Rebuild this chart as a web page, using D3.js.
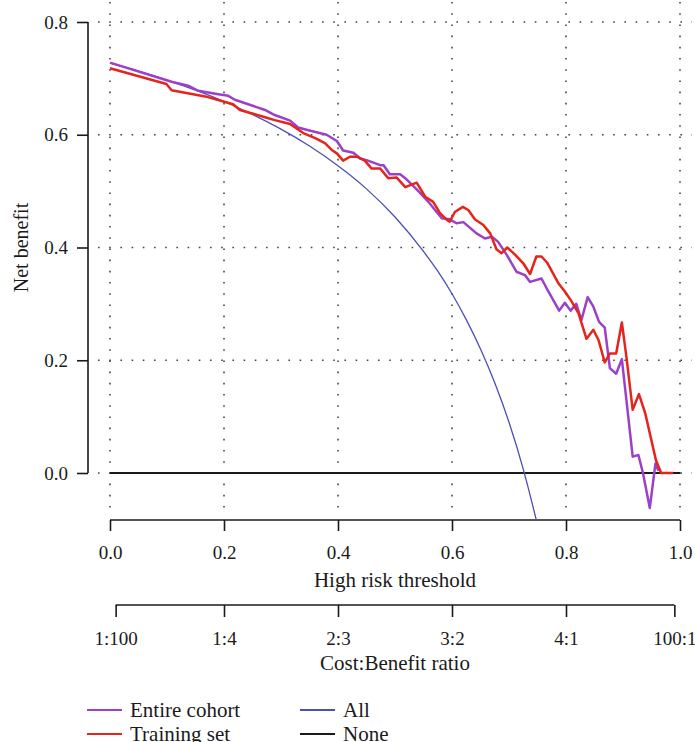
<!DOCTYPE html>
<html lang="en">
  <head>
    <meta charset="utf-8">
    <title>Decision curve</title>
    <script src="https://d3js.org/d3.v7.min.js"></script>
    <style>
      body { margin: 0; background: #fff; }
      text { font-family: "Liberation Serif", "Times New Roman", serif; fill: #1a1a1a; }
    </style>
  </head>
  <body>
  <script>

  // threshold / net benefit
  var cohortT  = [0, 0.108, 0.137, 0.155, 0.19, 0.2075, 0.219, 0.272, 0.289, 0.316, 0.33, 0.348, 0.38, 0.398, 0.409, 0.427, 0.439, 0.45, 0.474, 0.48, 0.491, 0.509, 0.518, 0.538, 0.553, 0.561, 0.582, 0.596, 0.608, 0.62, 0.643, 0.658, 0.67, 0.681, 0.696, 0.713, 0.728, 0.737, 0.757, 0.769, 0.788, 0.798, 0.808, 0.818, 0.827, 0.838, 0.848, 0.858, 0.868, 0.877, 0.888, 0.898, 0.917, 0.927, 0.935, 0.947, 0.957, 0.962];
  var cohortNB = [0.728, 0.694, 0.687, 0.678, 0.672, 0.669, 0.662, 0.644, 0.635, 0.625, 0.613, 0.608, 0.6, 0.589, 0.572, 0.568, 0.558, 0.555, 0.546, 0.546, 0.53, 0.53, 0.523, 0.503, 0.487, 0.478, 0.452, 0.45, 0.443, 0.445, 0.425, 0.416, 0.419, 0.41, 0.387, 0.357, 0.351, 0.339, 0.345, 0.322, 0.288, 0.302, 0.288, 0.3, 0.271, 0.312, 0.295, 0.268, 0.258, 0.186, 0.176, 0.202, 0.029, 0.032, 0.0, -0.062, 0.017, 0.004];

  var trainT  = [0, 0.099, 0.108, 0.167, 0.199, 0.216, 0.228, 0.272, 0.289, 0.316, 0.339, 0.36, 0.377, 0.389, 0.398, 0.409, 0.421, 0.433, 0.447, 0.459, 0.474, 0.488, 0.503, 0.518, 0.538, 0.553, 0.567, 0.579, 0.591, 0.596, 0.605, 0.619, 0.629, 0.64, 0.655, 0.667, 0.678, 0.687, 0.697, 0.711, 0.725, 0.737, 0.748, 0.757, 0.767, 0.787, 0.798, 0.81, 0.822, 0.836, 0.848, 0.857, 0.868, 0.877, 0.888, 0.898, 0.906, 0.917, 0.928, 0.939, 0.958, 0.967, 0.988];
  var trainNB = [0.718, 0.69, 0.679, 0.668, 0.659, 0.654, 0.644, 0.631, 0.626, 0.619, 0.603, 0.594, 0.585, 0.573, 0.567, 0.554, 0.561, 0.561, 0.554, 0.54, 0.54, 0.523, 0.524, 0.507, 0.515, 0.49, 0.481, 0.461, 0.449, 0.446, 0.463, 0.472, 0.466, 0.45, 0.44, 0.425, 0.397, 0.39, 0.4, 0.387, 0.372, 0.353, 0.384, 0.384, 0.373, 0.336, 0.322, 0.304, 0.283, 0.238, 0.254, 0.236, 0.196, 0.212, 0.212, 0.267, 0.206, 0.112, 0.14, 0.106, 0.022, 0.0, 0.0];

  // treat-all curve
  var allT  = [0, 0.05, 0.1, 0.15, 0.2, 0.25, 0.3, 0.35, 0.4, 0.45, 0.5, 0.55, 0.575, 0.6, 0.625, 0.65, 0.675, 0.7, 0.725, 0.75];
  var allNB = [0.727, 0.713, 0.697, 0.679, 0.659, 0.636, 0.61, 0.58, 0.545, 0.504, 0.454, 0.393, 0.358, 0.318, 0.272, 0.22, 0.16, 0.09, 0.007, -0.092];

  var xTicks = [0, 0.2, 0.4, 0.6, 0.8, 1.0];
  var yTicks = [0, 0.2, 0.4, 0.6, 0.8];
  var ratioLabels = ["1:100", "1:4", "2:3", "3:2", "4:1", "100:1"];
  var ratioPos = [1 / 101, 0.2, 0.4, 0.6, 0.8, 100 / 101];

  var legendNames = ["Entire cohort", "Training set", "All", "None"];
  var colors = { "Entire cohort": "#9b41c9", "Training set": "#e5241b", "All": "#4b4fb6", "None": "#1a1a1a" };

  var w = 695, h = 742;
  var x = d3.scaleLinear().domain([0, 1]).range([110, 680]);
  var y = d3.scaleLinear().domain([0, 0.8]).range([473, 22]);
  var plotBottom = 520;

  var svg = d3.select("body").append("svg")
    .attr("width", w)
    .attr("height", h);

  svg.append("clipPath").attr("id", "plotclip")
    .append("rect")
    .attr("x", 90).attr("y", 0)
    .attr("width", 605).attr("height", plotBottom);

  // dotted grid
  var grid = svg.append("g")
    .attr("stroke", "#444")
    .attr("stroke-width", 1.6)
    .attr("stroke-dasharray", "1.6 9.6");
  grid.selectAll(".gx").data(xTicks).enter().append("line")
    .attr("x1", d => x(d)).attr("x2", d => x(d))
    .attr("y1", 2).attr("y2", plotBottom - 4);
  grid.selectAll(".gy").data(yTicks).enter().append("line")
    .attr("y1", d => y(d)).attr("y2", d => y(d))
    .attr("x1", 98).attr("x2", 692);

  // y axis
  var yAxis = svg.append("g")
    .attr("transform", "translate(88,0)")
    .call(d3.axisLeft(y).tickValues(yTicks).tickFormat(d3.format(".1f")).tickSize(11).tickPadding(9));

  // threshold axis
  var xAxis = svg.append("g")
    .attr("transform", "translate(0," + plotBottom + ")")
    .call(d3.axisBottom(x).tickValues(xTicks).tickFormat(d3.format(".1f")).tickSize(11).tickPadding(15));

  // cost:benefit axis
  var rAxis = svg.append("g")
    .attr("transform", "translate(0,605)")
    .call(d3.axisBottom(x).tickValues(ratioPos).tickFormat((d, i) => ratioLabels[i]).tickSize(12).tickPadding(15));

  [yAxis, xAxis, rAxis].forEach(function(g) {
    g.select(".domain").attr("stroke", "#1a1a1a").attr("stroke-width", 1.6);
    g.selectAll(".tick line").attr("stroke", "#1a1a1a").attr("stroke-width", 1.6);
    g.selectAll(".tick text").attr("font-size", 19).attr("fill", "#1a1a1a")
      .attr("font-family", "Liberation Serif, serif");
  });
  yAxis.select(".domain").attr("d", "M-0," + y(0.8) + "V" + y(0));
  xAxis.select(".domain").attr("d", "M" + x(0) + ",0H" + x(1));
  rAxis.select(".domain").attr("d", "M" + x(ratioPos[0]) + ",0H" + x(ratioPos[5]));

  // titles
  svg.append("text")
    .attr("transform", "translate(28," + y(0.4) + ") rotate(-90)")
    .attr("text-anchor", "middle")
    .attr("font-size", 20)
    .text("Net benefit");
  svg.append("text")
    .attr("x", x(0.5)).attr("y", 587)
    .attr("text-anchor", "middle")
    .attr("font-size", 21)
    .text("High risk threshold");
  svg.append("text")
    .attr("x", x(0.5)).attr("y", 670)
    .attr("text-anchor", "middle")
    .attr("font-size", 21)
    .text("Cost:Benefit ratio");

  // curves
  var plot = svg.append("g").attr("clip-path", "url(#plotclip)");

  plot.append("line")
    .attr("x1", x(0)).attr("x2", x(1))
    .attr("y1", y(0)).attr("y2", y(0))
    .attr("stroke", colors["None"])
    .attr("stroke-width", 2.2);

  var smooth = d3.line().x(d => x(d[0])).y(d => y(d[1])).curve(d3.curveMonotoneX);
  var straight = d3.line().x(d => x(d[0])).y(d => y(d[1]));

  plot.append("path")
    .attr("d", smooth(d3.zip(allT, allNB)))
    .attr("fill", "none")
    .attr("stroke", colors["All"])
    .attr("stroke-width", 1.3);

  plot.append("path")
    .attr("d", straight(d3.zip(cohortT, cohortNB)))
    .attr("fill", "none")
    .attr("stroke", colors["Entire cohort"])
    .attr("stroke-width", 2.5)
    .attr("stroke-linejoin", "round");

  plot.append("path")
    .attr("d", straight(d3.zip(trainT, trainNB)))
    .attr("fill", "none")
    .attr("stroke", colors["Training set"])
    .attr("stroke-width", 2.5)
    .attr("stroke-linejoin", "round");

  // legend, two columns
  var legend = svg.append("g");
  legendNames.forEach(function(name, i) {
    var lx = i < 2 ? 87 : 300;
    var ly = 710 + (i % 2) * 24;
    legend.append("line")
      .attr("x1", lx).attr("x2", lx + 35)
      .attr("y1", ly).attr("y2", ly)
      .attr("stroke", colors[name])
      .attr("stroke-width", 2.2);
    legend.append("text")
      .attr("x", lx + 43).attr("y", ly + 7)
      .attr("font-size", 21)
      .text(name);
  });

  </script>
  </body>
</html>
